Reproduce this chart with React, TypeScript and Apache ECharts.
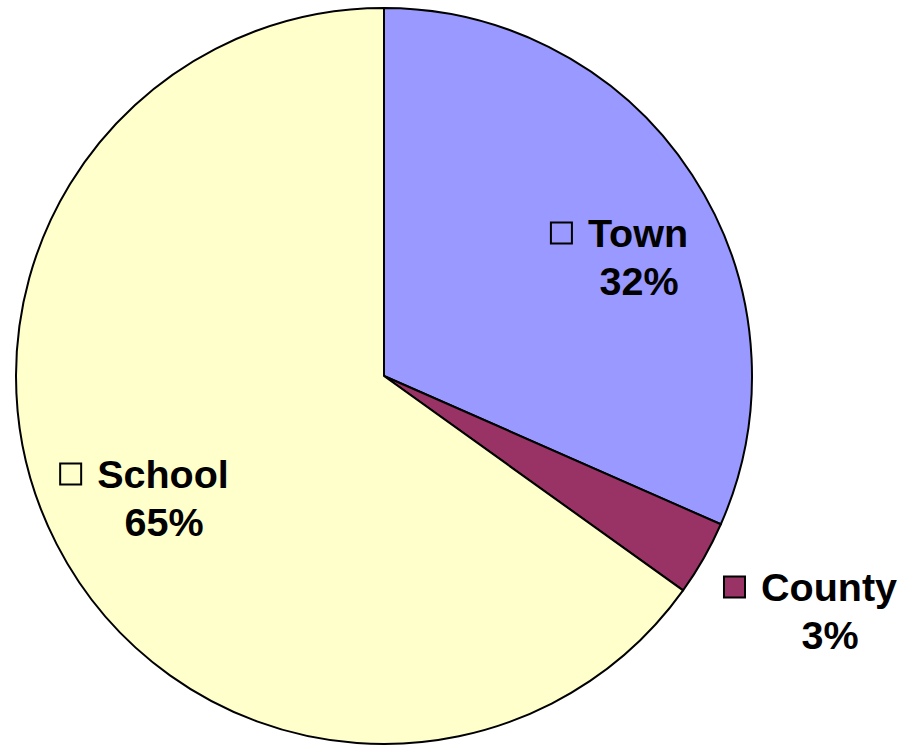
import React, { useEffect, useRef } from "react";
import * as echarts from "echarts";

const categories = ["Town", "County", "School"];
const values = [31.6, 3.3, 65.1];
const colors = ["#9999FF", "#993366", "#FFFFCC"];

// label block centres (layout only)
const labelPos: [number, number][] = [
  [620, 257],
  [811, 611],
  [145, 498],
];

export default function App() {
  const ref = useRef<HTMLDivElement>(null);
  useEffect(() => {
    if (!ref.current) return;
    const chart = echarts.init(ref.current, null, { renderer: "svg" });
    const font = '"Liberation Sans", Arial, Helvetica, sans-serif';
    const data = categories.map((name, i) => ({
      name,
      value: values[i],
      itemStyle: { color: colors[i] },
      label: {
        rich: {
          box: {
            width: 19,
            height: 19,
            backgroundColor: colors[i],
            borderColor: "#000",
            borderWidth: 2,
          },
        },
      },
    }));
    chart.setOption({
      animation: false,
      backgroundColor: "#ffffff",
      series: [
        {
          type: "pie",
          center: [384, 376],
          radius: 368,
          startAngle: 90,
          clockwise: true,
          avoidLabelOverlap: false,
          data,
          itemStyle: { borderColor: "#000", borderWidth: 2 },
          emphasis: { disabled: true },
          labelLine: { show: false },
          label: {
            show: true,
            position: "inside",
            formatter: (p: any) =>
              `{box|}{gap|}{name|${p.name}}\n{sp|}{pct|${Math.round(p.percent)}%}`,
            rich: {
              gap: { width: 17 },
              sp: { width: 38 },
              name: {
                fontSize: 39.5,
                fontWeight: "bold",
                fontFamily: font,
                color: "#000",
                lineHeight: 48,
              },
              pct: {
                fontSize: 39.5,
                fontWeight: "bold",
                fontFamily: font,
                color: "#000",
                lineHeight: 48,
              },
            },
          },
          labelLayout: (params: any) => {
            const pos = labelPos[params.dataIndex];
            return {
              x: pos[0],
              y: pos[1],
              align: "center",
              verticalAlign: "middle",
            };
          },
        },
      ],
    });
    return () => chart.dispose();
  }, []);
  return (
    <div
      ref={ref}
      style={{ position: "fixed", left: 0, top: 0, width: 907, height: 746 }}
    />
  );
}
